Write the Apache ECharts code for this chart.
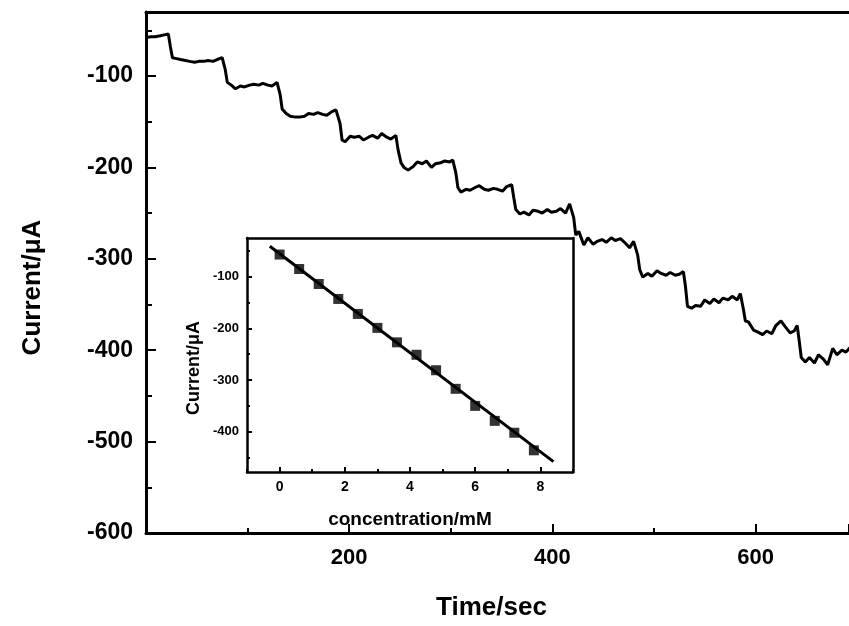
<!DOCTYPE html>
<html><head><meta charset="utf-8">
<script src="https://cdn.jsdelivr.net/npm/echarts@6/dist/echarts.min.js"></script>
<style>html,body{margin:0;padding:0;background:#fff}#c{width:849px;height:626px}</style>
</head><body><div id="c"></div>
<script>
// Main trace: time (s) and current (µA)
const timeSec = [
  0,5,9,14,18,22, 24,26,
  30,34,39,43,48,52,57,61,66,70,75, 78,80,
  84,88,93,97,102,106,111,115,120,124,129, 132,134,
  138,142,147,151,156,160,165,169,174,178,183,187, 191,193,
  196,201,205,210,214,219,223,228,232,237,241,246, 248,251,
  254,258,263,267,272,276,281,285,290,294,299,302, 305,307,
  310,315,319,324,328,333,337,342,346,351,355,360, 362,364,
  368,372,377,381,386,390,395,399,404,408,413,417, 421,423,
  426,431,435,440,444,449,453,458,462,467,471,476,480, 484,486,
  489,494,498,503,507,512,516,521,525,529, 531,533,
  537,541,546,550,555,559,564,568,573,577,582,585, 588,590,
  593,598,602,607,611,616,620,625,629,634,638,641, 643,645,
  649,653,658,662,667,671,676,680,685,689,694,698
];
const currentUA = [
  -58,-57,-57,-56,-55,-54, -68,-80,
  -81,-82,-83,-84,-85,-84,-84,-83,-84,-82,-80, -93,-107,
  -110,-114,-111,-112,-110,-109,-110,-108,-110,-111,-107, -120,-136,
  -141,-144,-145,-145,-144,-141,-142,-140,-142,-143,-139,-137, -152,-170,
  -172,-166,-167,-166,-170,-167,-165,-168,-163,-167,-169,-165, -180,-195,
  -200,-203,-199,-194,-196,-193,-200,-196,-195,-193,-194,-192, -206,-222,
  -227,-224,-225,-222,-220,-224,-225,-223,-224,-226,-221,-219, -233,-246,
  -251,-249,-252,-247,-248,-250,-246,-249,-248,-245,-250,-240, -255,-274,
  -270,-285,-277,-284,-281,-279,-282,-277,-280,-278,-282,-288,-281, -296,-312,
  -320,-316,-319,-313,-316,-318,-315,-318,-317,-314, -330,-352,
  -354,-351,-352,-345,-349,-344,-348,-343,-345,-341,-345,-338, -355,-368,
  -369,-378,-380,-383,-379,-382,-373,-368,-374,-381,-379,-373, -390,-408,
  -413,-408,-414,-405,-410,-416,-398,-405,-400,-402,-396,-397
];
// Inset: calibration points and fitted line
const concMM = [0,0.6,1.2,1.8,2.4,3.0,3.6,4.2,4.8,5.4,6.0,6.6,7.2,7.8];
const insetCurrent = [-57,-85,-114,-143,-172,-199,-227,-251,-281,-317,-350,-379,-402,-436];
const fitConc = [-0.3, 8.4];
const fitCurrent = [-41, -458];
// Tick values
const insetXTicks = [0,2,4,6,8];
const insetXMinor = [-1,1,3,5,7,9];
const insetYTicks = [-400,-300,-200,-100];
const insetYMinor = [-450,-350,-250,-150,-50];

const F = '"Liberation Sans", Arial, sans-serif';
const K = '#000';
const lbl = (size, extra) => Object.assign({color:K, fontFamily:F, fontWeight:'bold', fontSize:size}, extra||{});
const noSplit = {show:false};
const line = (w) => ({show:true, onZero:false, lineStyle:{color:K, width:w}});
const noLine = {show:false, onZero:false};

const chart = echarts.init(document.getElementById('c'));
chart.setOption({
  animation:false,
  backgroundColor:'#fff',
  grid:[
    {left:146, top:12, width:703, height:528},
    {left:247, top:238, width:326, height:234, show:true, backgroundColor:'#fff', borderWidth:0, z:5}
  ],
  xAxis:[
    {gridIndex:0, type:'value', min:0, max:692, interval:200, position:'bottom',
     axisLine:line(3),
     axisTick:{inside:true, length:9, lineStyle:{color:K, width:2}},
     minorTick:{show:true, splitNumber:2, length:5, lineStyle:{color:K, width:2}},
     axisLabel:lbl(22,{margin:14, showMinLabel:false, showMaxLabel:false}),
     splitLine:noSplit,
     name:'Time/sec', nameLocation:'middle', nameGap:62, nameTextStyle:lbl(26,{padding:[0,12,0,0]})},
    {gridIndex:0, type:'value', min:0, max:692, position:'top',
     axisLine:line(3), axisTick:{show:false}, axisLabel:{show:false}, splitLine:noSplit},
    {gridIndex:1, type:'value', min:-1, max:9, position:'bottom', z:6,
     axisLine:line(2.5),
     axisTick:{inside:true, length:5, customValues:insetXTicks, lineStyle:{color:K, width:2}},
     axisLabel:lbl(14,{customValues:insetXTicks, margin:8}),
     splitLine:noSplit,
     name:'concentration/mM', nameLocation:'middle', nameGap:38, nameTextStyle:lbl(19)},
    {gridIndex:1, type:'value', min:-1, max:9, position:'bottom', z:6,
     axisLine:noLine,
     axisTick:{inside:true, length:3, customValues:insetXMinor, lineStyle:{color:K, width:2}},
     axisLabel:{show:false}, splitLine:noSplit},
    {gridIndex:1, type:'value', min:-1, max:9, position:'top', z:6,
     axisLine:line(2.5), axisTick:{show:false}, axisLabel:{show:false}, splitLine:noSplit}
  ],
  yAxis:[
    {gridIndex:0, type:'value', min:-600, max:-30, interval:100, position:'left',
     axisLine:line(3),
     axisTick:{inside:true, length:10, lineStyle:{color:K, width:2}},
     minorTick:{show:true, splitNumber:2, length:6, lineStyle:{color:K, width:2}},
     axisLabel:lbl(23,{margin:13, showMaxLabel:false}),
     splitLine:noSplit,
     name:'Current/\u03bcA', nameLocation:'middle', nameGap:100, nameTextStyle:lbl(26,{padding:[0,30,0,0]})},
    {gridIndex:1, type:'value', min:-478, max:-25, position:'left', z:6,
     axisLine:line(2.5),
     axisTick:{inside:true, length:5, customValues:insetYTicks, lineStyle:{color:K, width:2}},
     axisLabel:lbl(13,{customValues:insetYTicks, margin:8}),
     splitLine:noSplit,
     name:'Current/\u03bcA', nameLocation:'middle', nameGap:44, nameTextStyle:lbl(18,{padding:[0,26,0,0]})},
    {gridIndex:1, type:'value', min:-478, max:-25, position:'left', z:6,
     axisLine:noLine,
     axisTick:{inside:true, length:3, customValues:insetYMinor, lineStyle:{color:K, width:2}},
     axisLabel:{show:false}, splitLine:noSplit},
    {gridIndex:1, type:'value', min:-478, max:-25, position:'right', z:6,
     axisLine:line(2.5), axisTick:{show:false}, axisLabel:{show:false}, splitLine:noSplit}
  ],
  series:[
    {type:'line', xAxisIndex:0, yAxisIndex:0, showSymbol:false, z:2,
     lineStyle:{color:K, width:3}, data:timeSec.map((t,i)=>[t,currentUA[i]])},
    {type:'line', xAxisIndex:2, yAxisIndex:1, showSymbol:false, z:7,
     lineStyle:{color:K, width:3}, data:fitConc.map((c,i)=>[c,fitCurrent[i]])},
    {type:'scatter', xAxisIndex:2, yAxisIndex:1, symbol:'rect', symbolSize:10, z:8,
     itemStyle:{color:K}, data:concMM.map((c,i)=>[c,insetCurrent[i]])}
  ]
});
</script>
</body></html>
